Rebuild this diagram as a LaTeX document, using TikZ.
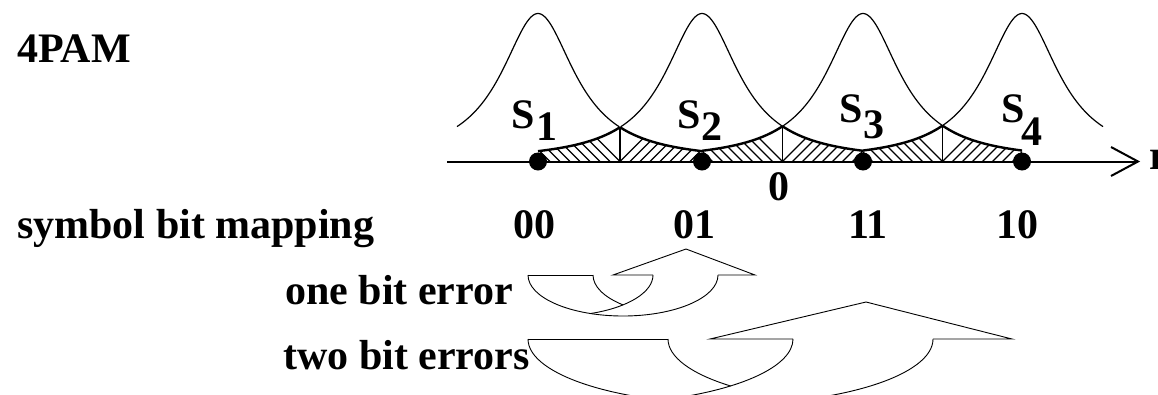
\documentclass[tikz,border=0pt]{standalone}
\usepackage{fontspec}
\setmainfont{Liberation Serif}
\begin{document}
\begin{tikzpicture}[x=1pt,y=-1pt,
  declare function={g(\x,\c)=161.5-148/(1+((\x-\c)/45)^2);},
  lbl/.style={font=\fontsize{42}{48}\selectfont\bfseries, inner sep=0pt, anchor=base west},
  lblc/.style={lbl, anchor=base},
  thinc/.style={line width=1.2pt},
  tailc/.style={line width=2.4pt},
  hatch/.style={line width=1.2pt},
  axisl/.style={line width=2pt},
  dot/.style={circle, fill=black, inner sep=0pt, minimum size=18pt},
  arr/.style={line width=0.9pt, line join=miter}]
\useasboundingbox (0,0) rectangle (1158,394);

% hatched overlap regions
\foreach \a/\b in {538/702,702/863,863/1022}{
  \pgfmathsetmacro\m{(\a+\b)/2}
  \begin{scope}
    \clip (\a,161.5) -- plot[domain=\a:\m, samples=40] (\x,{g(\x,\b)}) -- (\m,161.5) -- cycle;
    \foreach \k in {0,...,20} \draw[hatch] (\m-10*\k,161.5) -- ++(-50,-50);
  \end{scope}
  \begin{scope}
    \clip (\m,161.5) -- plot[domain=\m:\b, samples=40] (\x,{g(\x,\a)}) -- (\b,161.5) -- cycle;
    \foreach \k in {0,...,20} \draw[hatch] (\m+10*\k,161.5) -- ++(50,-50);
  \end{scope}
  \draw[thinc] (\m,{g(\m,\a)}) -- (\m,161.5);
  \draw[tailc] plot[domain=\a:\m, samples=40] (\x,{g(\x,\b)});
  \draw[tailc] plot[domain=\m:\b, samples=40] (\x,{g(\x,\a)});
}
% density curves
\foreach \c in {538,702,863,1022}
  \draw[thinc] plot[domain={\c-81}:{\c+81}, samples=80] (\x,{g(\x,\c)});

% axis
\coordinate (axL) at (447,161.5);
\coordinate (axR) at (1138,161.5);
\coordinate (axU) at (1111,147);
\coordinate (axD) at (1111,176);
\draw[axisl] (axL) -- (axR);
\draw[axisl] (axU) -- (axR) -- (axD);
\node[dot] (d1) at (538,161.5) {};
\node[dot] (d2) at (702,161.5) {};
\node[dot] (d3) at (863,161.5) {};
\node[dot] (d4) at (1022,161.5) {};

% labels
\node[lbl] (t4pam) at (17,62) {4PAM};
\node[lbl] (tsym) at (17,238) {symbol bit mapping};
\node[lblc] (b00) at (534,238) {00};
\node[lblc] (b01) at (694,238) {01};
\node[lblc] (b11) at (868,238) {11};
\node[lblc] (b10) at (1017,238) {10};
\node[lblc] (zero) at (779,200) {0};
\node[lbl] (tr) at (1149,169) {r};
\node[lbl] (s1) at (511,128) {S};
\node[lbl] (s1i) at (536,140) {1};
\node[lbl] (s2) at (677,128) {S};
\node[lbl] (s2i) at (701,140) {2};
\node[lbl] (s3) at (839,122) {S};
\node[lbl] (s3i) at (863,138) {3};
\node[lbl] (s4) at (1001,122) {S};
\node[lbl] (s4i) at (1021,145) {4};
\node[lbl] (one) at (285,304) {one bit error};
\node[lbl] (two) at (283,369) {two bit errors};

% one bit error curved arrow
\draw[arr] (528,275) -- (593,275);
\draw[arr] (528,275) arc[start angle=180, end angle=0, x radius=95, y radius=41];
\draw[arr] (653,275) arc[start angle=0, end angle=70, x radius=95, y radius=41];
\draw[arr] (593,275) arc[start angle=180, end angle=133.2, x radius=95, y radius=41];
\draw[arr] (653,275) -- (613,275) -- (686,249) -- (755,275) -- (718,275);

% two bit errors curved arrow
\begin{scope}
  \clip (0,0) rectangle (1158,394);
  \draw[arr] (528,339) -- (668,339);
  \draw[arr] (528,339) arc[start angle=180, end angle=0, x radius=202.5, y radius=65];
  \draw[arr] (793,339) arc[start angle=0, end angle=69.8, x radius=202.5, y radius=65];
  \draw[arr] (668,339) arc[start angle=180, end angle=133.7, x radius=202.5, y radius=65];
  \draw[arr] (793,339) -- (710,339) -- (866,302) -- (1012,339) -- (933,339);
\end{scope}
\end{tikzpicture}
\end{document}
